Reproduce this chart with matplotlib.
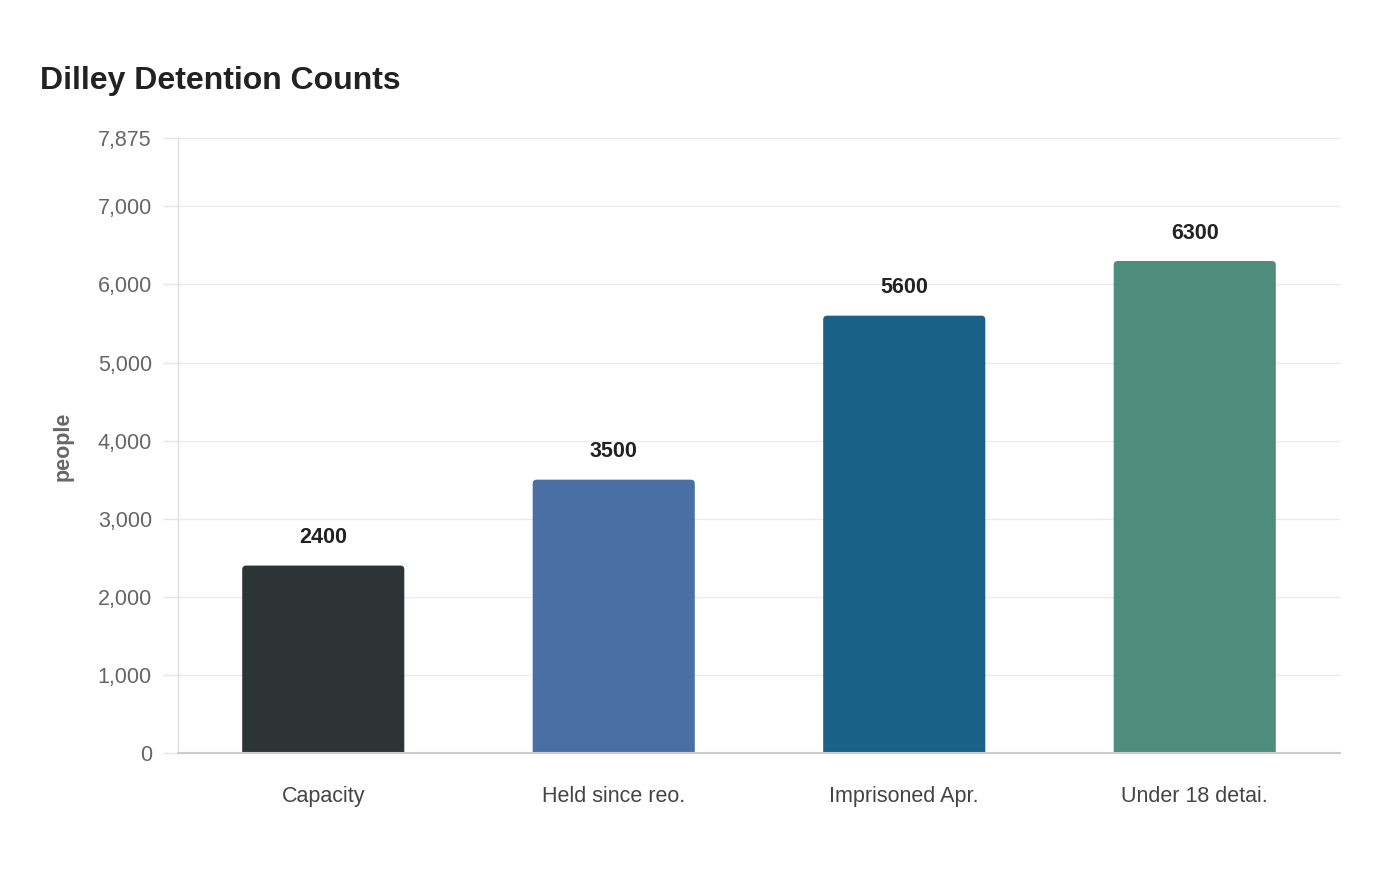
import matplotlib
matplotlib.use("Agg")
import matplotlib.pyplot as plt
from matplotlib.patches import FancyBboxPatch
from matplotlib.ticker import FuncFormatter

categories = ["Capacity", "Held since reo.", "Imprisoned Apr.", "Under 18 detai."]
values = [2400, 3500, 5600, 6300]
colors = ["#2d3436", "#4a6fa5", "#1a6188", "#4e8d7c"]
yticks = [0, 1000, 2000, 3000, 4000, 5000, 6000, 7000, 7875]
ymax = 7875

plt.rcParams['font.family'] = ['Liberation Sans', 'DejaVu Sans']

fig = plt.figure(figsize=(14, 8.8), dpi=100)
ax = fig.add_axes([178/1400, 127/880, (1340-178)/1400, (753-138)/880])

x = list(range(len(categories)))
bars = ax.bar(x, values, width=0.558, color=colors, zorder=3)

ax.set_xlim(-0.5, len(categories) - 0.5)
ax.set_ylim(0, ymax)

# rounded top corners
x_per_px = (len(categories)) / ((1340-178))
y_per_px = ymax / (753-138)
r_px = 4
for b, c in zip(bars, colors):
    bx, bw, bh = b.get_x(), b.get_width(), b.get_height()
    b.set_visible(False)
    p = FancyBboxPatch((bx, -r_px*3*y_per_px), bw, bh + r_px*3*y_per_px,
                       boxstyle=f"round,pad=0,rounding_size={r_px*x_per_px}",
                       mutation_aspect=y_per_px/x_per_px,
                       facecolor=c, edgecolor='none', zorder=3)
    ax.add_patch(p)

for xi, v in zip(x, values):
    ax.annotate(f"{v}", (xi, v), xytext=(0, 12.5), textcoords='offset points',
                ha='center', va='bottom', fontsize=15.5, fontweight='bold', color='#222222')

ax.set_yticks(yticks)
ax.yaxis.set_major_formatter(FuncFormatter(lambda v, p: f"{int(v):,}"))
ax.set_xticks(x)
ax.set_xticklabels(categories)
ax.tick_params(axis='y', length=10.8, color='#e6e6e6', width=1, labelsize=15.5, labelcolor='#666666', pad=8)
ax.tick_params(axis='x', length=0, labelsize=15.5, labelcolor='#444444', pad=24)
ax.grid(axis='y', color='#ebebeb', linewidth=1, zorder=0)
ax.set_axisbelow(True)

for s in ['top', 'right']:
    ax.spines[s].set_visible(False)
ax.spines['left'].set_color('#e0e0e0')
ax.spines['left'].set_linewidth(1)
ax.spines['bottom'].set_color('#cccccc')
ax.spines['bottom'].set_linewidth(1.5)
ax.spines['bottom'].set_zorder(4)

fig.text(63/1400, 1 - 446/880, "people", rotation=90, ha='center', va='center',
         fontsize=15.5, fontweight='bold', color='#666666')
fig.text(40/1400, 1 - 81/880, "Dilley Detention Counts", ha='left', va='center',
         fontsize=23, fontweight='bold', color='#222222')

fig.savefig("out.png", dpi=100, facecolor='white')
